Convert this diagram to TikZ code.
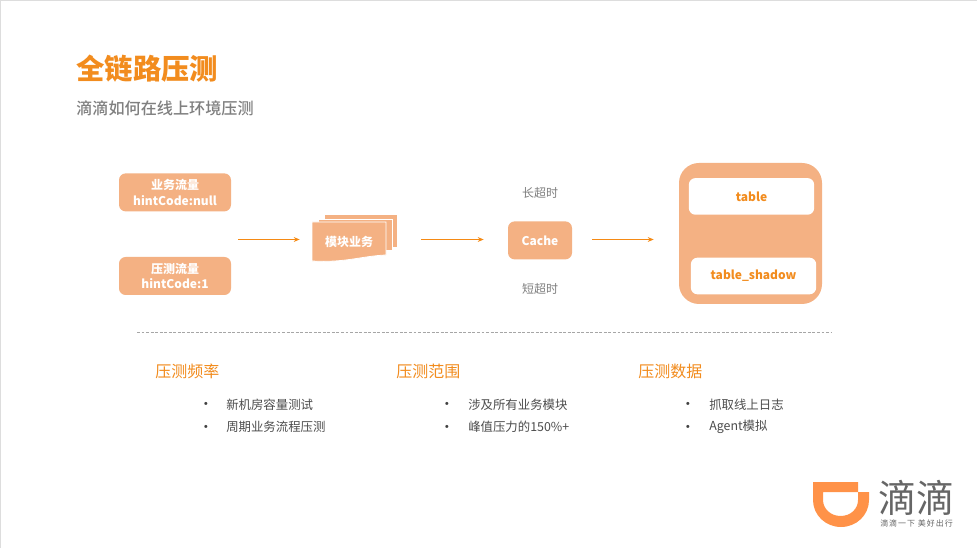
\documentclass[tikz,border=0pt]{standalone}
\usepackage{fontspec}
\usepackage{tikz}
\usetikzlibrary{arrows.meta, positioning, calc, backgrounds}
\setmainfont{Noto Sans CJK SC}
\newfontfamily\logofont[LetterSpace=12]{Noto Sans CJK SC}
\newfontfamily\subfont{Noto Sans CJK SC Medium}
\definecolor{didiorange}{HTML}{F28C1E}
\definecolor{didiarrow}{HTML}{F58A14}
\definecolor{didipeach}{HTML}{F4B183}
\definecolor{didilogo}{HTML}{FF9248}
\definecolor{didigray}{HTML}{7F7F7F}
\definecolor{didiframe}{HTML}{DDDDDD}

\begin{document}
\begin{tikzpicture}[
    x=0.75pt, y=-0.75pt,
    flowbox/.style={rectangle, rounded corners=5pt, fill=didipeach, text=white, align=center, minimum width=84pt, minimum height=28.5pt, inner sep=0pt, font=\bfseries\fontsize{9}{11.4}\selectfont},
    tablebox/.style={rectangle, rounded corners=5pt, fill=white, text=didiorange, align=center, minimum width=94pt, minimum height=27.5pt, inner sep=0pt, font=\bfseries\fontsize{9}{11}\selectfont},
    sheet/.style={fill=didipeach, draw=white, line width=0.6pt},
    arrow/.style={-{Stealth[length=4.5pt, width=3.6pt]}, draw=didiarrow, line width=0.75pt},
    note/.style={text=didigray, font=\fontsize{9}{11}\selectfont},
    heading/.style={anchor=west, inner sep=0pt, text=didiorange, font=\fontsize{12}{14}\selectfont},
    dotmark/.style={inner sep=0pt, text=black!75, font=\fontsize{11}{13}\selectfont},
    item/.style={anchor=west, inner sep=0pt, text=black!70, font=\fontsize{9.3}{11}\selectfont}
]
\useasboundingbox (0,0) rectangle (977,548);

% Page edge
\fill[white] (0,0) rectangle (977,548);
\draw[didiframe, line width=1.2pt] (0,548) -- (0,0) -- (977,0);

% Title
\node[anchor=west, inner sep=0pt, text=didiorange, font=\bfseries\fontsize{21.3}{25}\selectfont] (title) at (76,68.5) {全链路压测};
\node[anchor=west, inner sep=0pt, text=didigray, font=\subfont\fontsize{12.1}{14}\selectfont] (subtitle) at (76,108) {滴滴如何在线上环境压测};

% Nodes
\node[flowbox] (biz) at (175,192.4) {业务流量\\hintCode:null};
\node[flowbox] (press) at (175,276) {压测流量\\hintCode:1};
\coordinate (merge) at (238,239.5);

\draw[sheet] (324,214) -- (397,214) -- (397,247) -- (324,247) -- cycle;
\draw[sheet] (318,219) -- (392,219) -- (392,250) -- (318,250) -- cycle;
\draw[sheet] (312,222) -- (386,222) -- (386,255) .. controls (362,256) and (345,263) .. (312,261) -- cycle;
\node[text=white, inner sep=0pt, minimum width=55.5pt, minimum height=30pt, font=\bfseries\fontsize{9}{11}\selectfont] (module) at (349,242) {模块业务};

\node[flowbox, minimum width=48pt] (cache) at (540,240.4) {Cache};
\node[note] (longto) at (540,193) {长超时};
\node[note] (shortto) at (540,289) {短超时};

\node[rectangle, rounded corners=15pt, fill=didipeach, minimum width=107.25pt, minimum height=105.75pt, inner sep=0pt] (store) at (750.5,233.5) {};
\node[tablebox] (table) at (751.5,196.4) {table};
\node[tablebox] (shadow) at (753.5,276) {table\_shadow};

% Arrows
\draw[arrow, shorten >=9pt] (merge) -- (module.west |- merge);
\draw[arrow, shorten <=26.25pt, shorten >=18pt] (module.east |- merge) -- (cache.west |- merge);
\draw[arrow, shorten <=15pt, shorten >=18.75pt] (cache.east |- merge) -- (store.west |- merge);

% Divider
\coordinate (ruleleft) at (137,332);
\coordinate (ruleright) at (831,332);
\draw[gray!70, dash pattern=on 2.2pt off 1.2pt, line width=0.5pt] (ruleleft) -- (ruleright);

% Lists
\node[heading] (freq) at (155,371.5) {压测频率};
\node[dotmark] (freqa) at (206,405.5) {•};
\node[dotmark] (freqb) at (206,428.5) {•};
\node[item] at (226,404.5) {新机房容量测试};
\node[item] at (226,427) {周期业务流程压测};

\node[heading] (range) at (396,371.5) {压测范围};
\node[dotmark] (rangea) at (447,405.5) {•};
\node[dotmark] (rangeb) at (447,428.5) {•};
\node[item] at (468,404.5) {涉及所有业务模块};
\node[item] at (468,427) {峰值压力的150\%+};

\node[heading] (data) at (638,371.5) {压测数据};
\node[dotmark] (dataa) at (688,405.5) {•};
\node[dotmark] (datab) at (688,428.5) {•};
\node[item] at (709,404.5) {抓取线上日志};
\node[item] at (709,427) {Agent模拟};

% Logo
\fill[didilogo, even odd rule] (813,482) -- (858,482) -- (858,492) -- (869,492) -- (869,500) .. controls (869,515) and (856.5,527) .. (841,527) .. controls (825.5,527) and (813,515) .. (813,500) -- cycle
    (823,492) -- (858,492) -- (858,500) .. controls (858,509) and (850.5,516) .. (840.5,516) .. controls (831,516) and (823,509) .. (823,500) -- cycle;
\node[anchor=west, inner sep=0pt, text=black!60, font=\fontsize{28.6}{31}\selectfont] (logoname) at (878,498) {滴滴};
\node[anchor=west, inner sep=0pt, text=black!60, font=\logofont\fontsize{6}{7}\selectfont] (logotag) at (880,523.5) {滴滴一下 美好出行};

\end{tikzpicture}
\end{document}
